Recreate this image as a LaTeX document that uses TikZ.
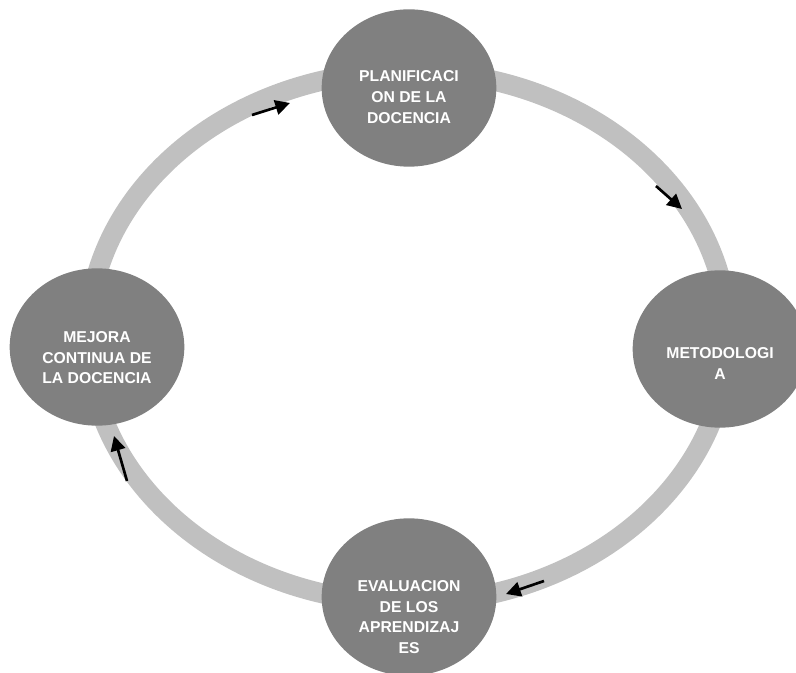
\documentclass[tikz,border=0pt]{standalone}
\usepackage{fontspec}
\setmainfont{Liberation Sans}
\usetikzlibrary{positioning,arrows.meta,shapes.geometric}
\definecolor{ringgray}{HTML}{C0C0C0}
\definecolor{stagegray}{HTML}{808080}

\begin{document}
\begin{tikzpicture}[x=0.75pt,y=-0.75pt,
  stage/.style={ellipse,fill=stagegray,minimum width=131pt,minimum height=118pt,inner sep=0pt},
  stagetext/.style={text=white,font=\fontsize{11.8}{15.6}\selectfont\bfseries,align=center,inner sep=0pt},
  flow/.style={line width=2pt,-{Triangle[length=11pt,width=11pt]}}]

  % Page size
  \useasboundingbox (0,0) rectangle (796,673);

  % Draw ring
  \draw[ringgray,line width=15pt] (408,337) ellipse [x radius=320,y radius=266];

  % Arrows on the ring
  \coordinate (a1s) at (252,115);
  \coordinate (a1e) at (290,103);
  \coordinate (a2s) at (656,186);
  \coordinate (a2e) at (682,209);
  \coordinate (a3s) at (544,581);
  \coordinate (a3e) at (506,594);
  \coordinate (a4s) at (127,481);
  \coordinate (a4e) at (114,436);
  \draw[flow] (a1s) -- (a1e);
  \draw[flow] (a2s) -- (a2e);
  \draw[flow] (a3s) -- (a3e);
  \draw[flow] (a4s) -- (a4e);

  % Stages
  \node[stage] (plan) at (409,88) {};
  \node[stage] (metod) at (720,349) {};
  \node[stage] (eval) at (409,597) {};
  \node[stage] (mejora) at (97,347) {};

  % Stage texts
  \node[stagetext] (plantxt) at ([yshift=-7pt]plan.center) {PLANIFICACI\\ON DE LA\\DOCENCIA};
  \node[stagetext] (metodtxt) at ([yshift=-11pt]metod.center) {METODOLOGI\\A};
  \node[stagetext] (evaltxt) at ([yshift=-15pt]eval.center) {EVALUACION\\DE LOS\\APRENDIZAJ\\ES};
  \node[stagetext] (mejoratxt) at ([yshift=-8pt]mejora.center) {MEJORA\\CONTINUA DE\\LA DOCENCIA};

\end{tikzpicture}
\end{document}
